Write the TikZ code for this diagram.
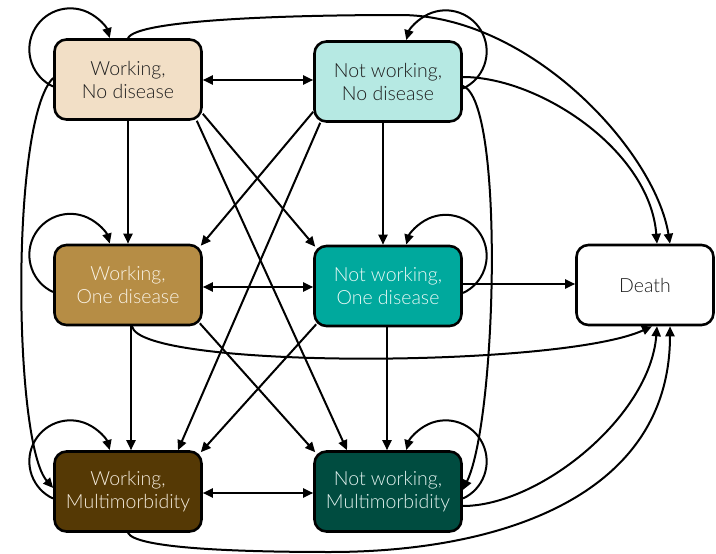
\documentclass[tikz,border=0pt]{standalone}
\usepackage{fontspec}
\setmainfont{Lato}[UprightFont={* Light}]
\usetikzlibrary{arrows.meta,calc}
\definecolor{cWN}{HTML}{F2DFC6}
\definecolor{cNN}{HTML}{B6E9E3}
\definecolor{cWO}{HTML}{B68D45}
\definecolor{cNO}{HTML}{00A99D}
\definecolor{cWM}{HTML}{553905}
\definecolor{cNM}{HTML}{004C40}
\definecolor{tDark}{HTML}{1E1E1E}
\definecolor{tWO}{HTML}{FAF3E6}
\definecolor{tNO}{HTML}{EAF9F6}
\definecolor{tWM}{HTML}{F5ECDD}
\definecolor{tNM}{HTML}{E2F2EF}
\begin{document}
\begin{tikzpicture}[x=1pt,y=-1pt,
  state/.style={draw=black, line width=2.6pt, rounded corners=12pt,
    minimum width=147pt, minimum height=80pt, align=center, inner sep=0pt,
    font=\fontsize{19.5}{23}\selectfont},
  arr/.style={line width=2pt, -{Triangle[length=10pt,width=9pt]}},
  darr/.style={line width=2pt, {Triangle[length=10pt,width=9pt]}-{Triangle[length=10pt,width=9pt]}}]
\useasboundingbox (0,0) rectangle (716,554);

\node[state, fill=cWN, text=tDark] (WN) at (128,79.5) {Working,\\No disease};
\node[state, fill=cNN, text=tDark] (NN) at (388,81.5) {Not working,\\No disease};
\node[state, fill=cWO, text=tWO] (WO) at (128,285) {Working,\\One disease};
\node[state, fill=cNO, text=tNO] (NO) at (388,286) {Not working,\\One disease};
\node[state, fill=white, text=tDark, minimum width=137pt] (Death) at (645,285) {Death};
\node[state, fill=cWM, text=tWM] (WM) at (128,491.5) {Working,\\Multimorbidity};
\node[state, fill=cNM, text=tNM] (NM) at (388,491.5) {Not working,\\Multimorbidity};

% horizontal double arrows
\draw[darr] ($(WN.east)+(0,0.5)$) -- ($(WN.east -| NN.west)+(0,0.5)$);
\draw[darr] ($(WO.east)+(0,2)$) -- ($(WO.east -| NO.west)+(0,2)$);
\draw[darr] ($(WM.east)+(0,1.5)$) -- ($(WM.east -| NM.west)+(0,1.5)$);

% vertical arrows
\draw[arr] (WN.south) -- (WO.north);
\draw[arr] ($(WO.south)+(3,0)$) -- ($(WM.north)+(3,0)$);
\draw[arr] ($(NN.south)+(-5,0)$) -- ($(NO.north)+(-5,0)$);
\draw[arr] ($(NO.south)+(-1,0)$) -- ($(NM.north)+(-1,0)$);
\draw[arr] ($(NO.east)+(0,-2)$) -- ($(NO.east -| Death.west)+(0,-2)$);

% diagonals
\draw[arr] ($(WN.south east)+(0,-7)$) -- ($(NO.north west)+(2,2)$);
\draw[arr] ($(WN.south east)+(-6,0)$) -- ($(NM.north)+(-41,0)$);
\draw[arr] ($(NN.south west)+(0,-11)$) -- ($(WO.north east)+(-2,2)$);
\draw[arr] ($(NN.south west)+(7,0)$) -- ($(WM.north)+(50,0)$);
\draw[arr] ($(WO.south east)+(-3,-3)$) -- ($(NM.north west)+(2,2)$);
\draw[arr] ($(NO.south west)+(3,-3)$) -- ($(WM.north east)+(-2,2)$);

% self loops
\draw[arr] ($(WN.center)+(-75,7)$) arc[start angle=245,end angle=16,radius=41pt];
\draw[arr] ($(WO.center)+(-75,7)$) arc[start angle=245,end angle=16,radius=41pt];
\draw[arr] ($(WM.center)+(-75,7)$) arc[start angle=245,end angle=16,radius=41pt];
\draw[arr] ($(NN.center)+(75,7)$) arc[start angle=-65,end angle=164,radius=41pt];
\draw[arr] ($(NO.center)+(75,7)$) arc[start angle=-65,end angle=164,radius=41pt];
\draw[arr] ($(NM.center)+(75,7)$) arc[start angle=-65,end angle=164,radius=41pt];

% long curves
\draw[arr] ($(WN.west)+(0,-1.5)$) .. controls +(-43,42) and +(-40,-45) .. ($(WM.west)+(0,-3.5)$);
\draw[arr] (WN.north) .. controls +(8,-18) and +(-120,0) .. (400,15)
  .. controls +(130,0) and +(-15,-93) .. ($(Death.north)+(25,0)$);
\draw[arr] ($(NN.east)+(0,-4.5)$) .. controls +(77,0) and +(-7,-93) .. ($(Death.north)+(12,0)$);
\draw[arr] ($(NN.east)+(0,4.5)$) .. controls +(42,14) and +(34,-70) .. ($(NM.east)+(0,-1.5)$);
\draw[arr] ($(WO.south)+(4,0)$) .. controls +(8,43) and +(-92,42) .. ($(Death.south)+(7,0)$);
\draw[arr] ($(NM.east)+(0,14.5)$) .. controls +(77,0) and +(-7,90) .. ($(Death.south)+(12,0)$);
\draw[arr] (WM.south) .. controls +(7,15) and +(-100,0) .. (330,552)
  .. controls +(170,0) and +(0,170) .. ($(Death.south)+(25,0)$);
\end{tikzpicture}
\end{document}
